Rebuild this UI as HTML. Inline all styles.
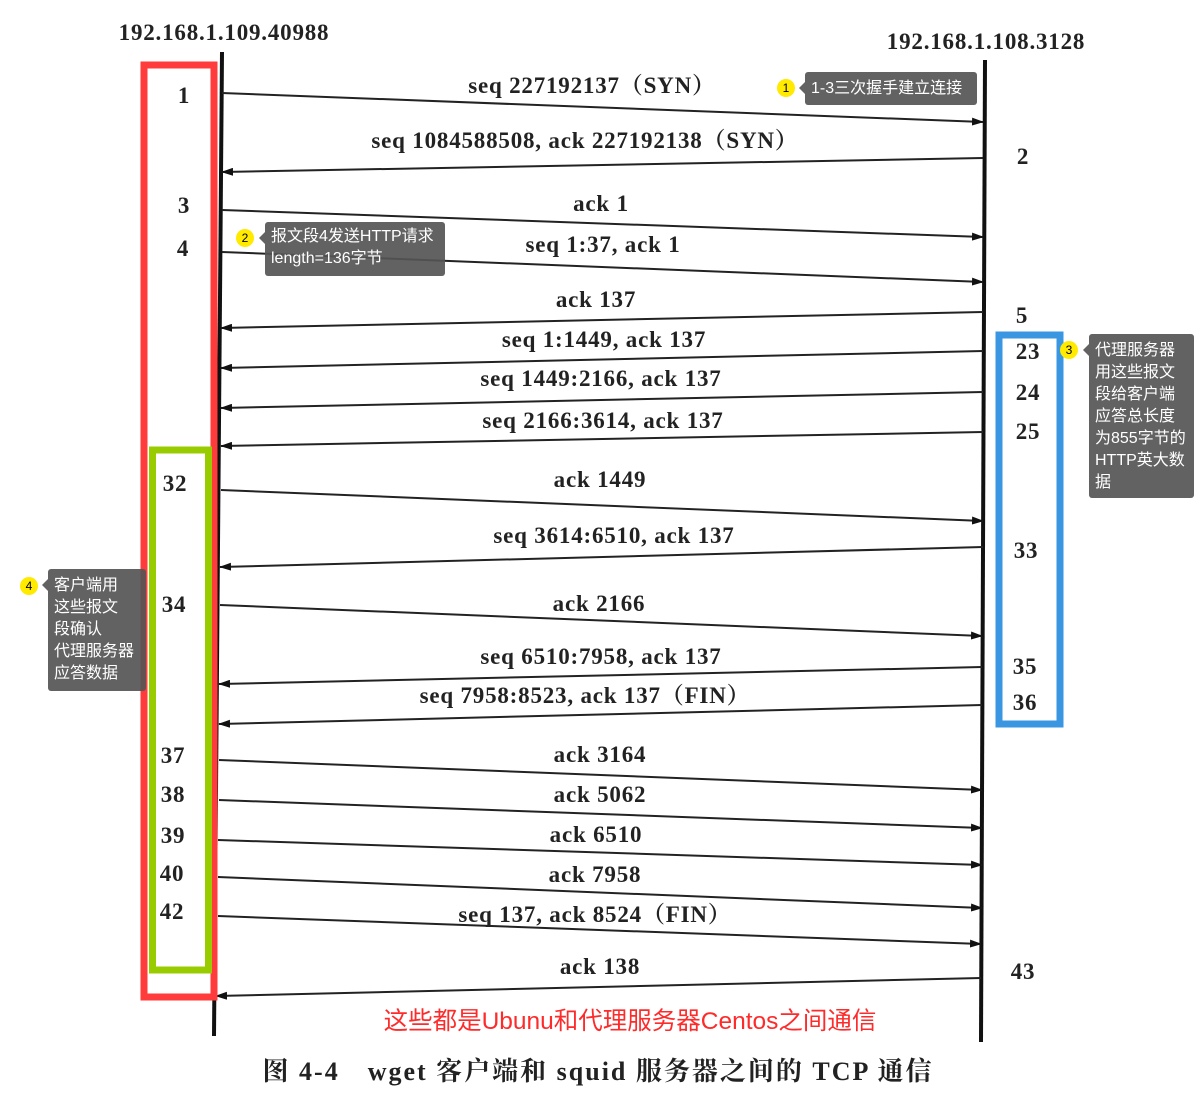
<!DOCTYPE html>
<html><head><meta charset="utf-8"><style>
body{margin:0;background:#fff;width:1195px;height:1099px;overflow:hidden;position:relative}
svg{position:absolute;left:0;top:0}
.tip{position:absolute;background:rgba(85,85,85,0.92);color:#fff;font-family:"Liberation Sans","Noto Sans CJK SC",sans-serif;font-size:16px;line-height:22px;border-radius:3px;padding:0 6px;word-break:break-all}
.tip:before{content:"";position:absolute;left:-6px;top:10px;border:6px solid transparent;border-left:0;border-right-color:rgba(85,85,85,0.92)}
.dot{position:absolute;width:18px;height:18px;border-radius:50%;background:#ffea00;color:#000;font:12px "Liberation Sans",sans-serif;text-align:center;line-height:18px}
</style></head><body>
<svg width="1195" height="1099" viewBox="0 0 1195 1099" font-family="Liberation Serif, Noto Serif CJK SC, serif" fill="#222">
<defs><marker id="a" markerWidth="12" markerHeight="8" refX="11" refY="4" orient="auto" markerUnits="userSpaceOnUse"><path d="M0,0 L12,4 L0,8 z" fill="#111"/></marker></defs>
<line x1="222" y1="52" x2="214" y2="1036" stroke="#111" stroke-width="4"/>
<line x1="985" y1="60" x2="981" y2="1042" stroke="#111" stroke-width="4"/>
<g stroke="#222" stroke-width="2" marker-end="url(#a)">
<line x1="222" y1="93" x2="983" y2="122"/>
<line x1="983" y1="158" x2="222" y2="172"/>
<line x1="222" y1="210" x2="983" y2="237"/>
<line x1="222" y1="252" x2="983" y2="282"/>
<line x1="983" y1="312" x2="221" y2="328"/>
<line x1="983" y1="351" x2="221" y2="368"/>
<line x1="983" y1="392" x2="221" y2="408"/>
<line x1="983" y1="432" x2="221" y2="446"/>
<line x1="221" y1="490" x2="983" y2="521"/>
<line x1="983" y1="547" x2="220" y2="567"/>
<line x1="220" y1="605" x2="982" y2="636"/>
<line x1="982" y1="667" x2="219" y2="684"/>
<line x1="982" y1="705" x2="219" y2="724"/>
<line x1="219" y1="760" x2="982" y2="790"/>
<line x1="219" y1="800" x2="982" y2="828"/>
<line x1="218" y1="840" x2="982" y2="865"/>
<line x1="218" y1="877" x2="982" y2="908"/>
<line x1="218" y1="916" x2="981" y2="944"/>
<line x1="981" y1="978" x2="216" y2="996"/>
</g>
<g font-size="23" font-weight="bold" text-anchor="middle" letter-spacing="0.8">
<text x="224" y="40">192.168.1.109.40988</text>
<text x="986" y="49">192.168.1.108.3128</text>
<text x="592" y="93">seq 227192137（SYN）</text>
<text x="585" y="148">seq 1084588508, ack 227192138（SYN）</text>
<text x="601" y="211">ack 1</text>
<text x="603" y="252">seq 1:37, ack 1</text>
<text x="596" y="307">ack 137</text>
<text x="604" y="347">seq 1:1449, ack 137</text>
<text x="601" y="386">seq 1449:2166, ack 137</text>
<text x="603" y="428">seq 2166:3614, ack 137</text>
<text x="600" y="487">ack 1449</text>
<text x="614" y="543">seq 3614:6510, ack 137</text>
<text x="599" y="611">ack 2166</text>
<text x="601" y="664">seq 6510:7958, ack 137</text>
<text x="585" y="703">seq 7958:8523, ack 137（FIN）</text>
<text x="600" y="762">ack 3164</text>
<text x="600" y="802">ack 5062</text>
<text x="596" y="842">ack 6510</text>
<text x="595" y="882">ack 7958</text>
<text x="595" y="922">seq 137, ack 8524（FIN）</text>
<text x="600" y="974">ack 138</text>
<text x="184" y="103">1</text><text x="184" y="213">3</text><text x="183" y="256">4</text>
<text x="175" y="491">32</text><text x="174" y="612">34</text><text x="173" y="763">37</text>
<text x="173" y="802">38</text><text x="173" y="843">39</text><text x="172" y="881">40</text><text x="172" y="919">42</text>
<text x="1023" y="164">2</text><text x="1022" y="323">5</text><text x="1028" y="359">23</text><text x="1028" y="400">24</text>
<text x="1028" y="439">25</text><text x="1026" y="558">33</text><text x="1025" y="674">35</text><text x="1025" y="710">36</text><text x="1023" y="979">43</text>
<text x="598" y="1080" font-size="26" letter-spacing="2">图 4-4　wget 客户端和 squid 服务器之间的 TCP 通信</text>
</g>
<rect x="144" y="65" width="70" height="932" fill="none" stroke="#ff3b3b" stroke-width="7"/>
<rect x="152.5" y="450" width="56" height="520" fill="none" stroke="#99cc00" stroke-width="7"/>
<rect x="999" y="335" width="61" height="389" fill="none" stroke="#3a96e0" stroke-width="7"/>
<text x="630" y="1029" font-family="Liberation Sans, Noto Sans CJK SC, sans-serif" font-size="24.5" fill="#ff2a2a" text-anchor="middle">这些都是Ubunu和代理服务器Centos之间通信</text>
</svg>
<div class="dot" style="left:777px;top:79px">1</div>
<div class="tip" style="left:805px;top:72px;height:33px;line-height:33px;width:160px">1-3三次握手建立连接</div>
<div class="dot" style="left:236px;top:229px">2</div>
<div class="tip" style="left:265px;top:222px;width:168px;padding-top:4px;height:50px">报文段4发送HTTP请求<br>length=136字节</div>
<div class="dot" style="left:1060px;top:341px">3</div>
<div class="tip" style="left:1089px;top:334px;width:96px;height:156px;padding:6px 3px 2px 6px">代理服务器<br>用这些报文<br>段给客户端<br>应答总长度<br>为855字节的<br>HTTP英大数<br>据</div>
<div class="dot" style="left:20px;top:577px">4</div>
<div class="tip" style="left:48px;top:569px;width:86px;height:114px;padding:6px 6px 2px">客户端用<br>这些报文<br>段确认<br>代理服务器<br>应答数据</div>
</body></html>
